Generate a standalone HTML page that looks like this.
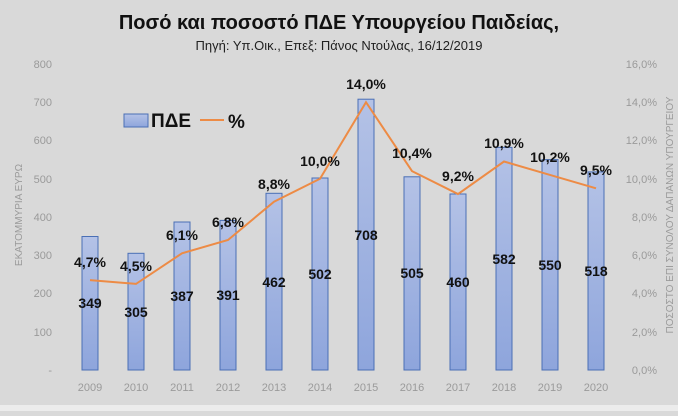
<!DOCTYPE html>
<html><head><meta charset="utf-8"><style>
body{margin:0;width:678px;height:411px;overflow:hidden;background:#d9d9d9;font-family:"Liberation Sans","DejaVu Sans",sans-serif}
</style></head><body>
<svg width="678" height="411" xmlns="http://www.w3.org/2000/svg" font-family="Liberation Sans, DejaVu Sans, sans-serif">
<defs><linearGradient id="g" x1="0" y1="0" x2="0" y2="1"><stop offset="0" stop-color="#b4c2e6"/><stop offset="1" stop-color="#8ea5dc"/></linearGradient></defs>
<rect x="0" y="0" width="678" height="405" fill="#d9d9d9"/>
<rect x="0" y="405" width="678" height="6" fill="#ececec"/>
<text x="339" y="29" text-anchor="middle" font-size="20" font-weight="bold" fill="#111">Ποσό και ποσοστό ΠΔΕ Υπουργείου Παιδείας,</text>
<text x="339" y="50" text-anchor="middle" font-size="13" fill="#222">Πηγή: Υπ.Οικ., Επεξ: Πάνος Ντούλας, 16/12/2019</text>
<g font-size="11" fill="#9a9a9a" text-anchor="end">
<text x="52" y="68">800</text><text x="52" y="106">700</text><text x="52" y="144">600</text><text x="52" y="183">500</text><text x="52" y="221">400</text><text x="52" y="259">300</text><text x="52" y="297">200</text><text x="52" y="336">100</text><text x="52" y="374">-</text>
<text x="657" y="68">16,0%</text><text x="657" y="106">14,0%</text><text x="657" y="144">12,0%</text><text x="657" y="183">10,0%</text><text x="657" y="221">8,0%</text><text x="657" y="259">6,0%</text><text x="657" y="297">4,0%</text><text x="657" y="336">2,0%</text><text x="657" y="374">0,0%</text>
</g>
<text transform="translate(22,215) rotate(-90)" text-anchor="middle" font-size="10" fill="#9a9a9a">ΕΚΑΤΟΜΜΥΡΙΑ ΕΥΡΩ</text>
<text transform="translate(673,215) rotate(-90)" text-anchor="middle" font-size="10" fill="#9a9a9a">ΠΟΣΟΣΤΟ ΕΠΙ ΣΥΝΟΛΟΥ ΔΑΠΑΝΩΝ ΥΠΟΥΡΓΕΙΟΥ</text>
<g fill="url(#g)" stroke="#4a6fb5" stroke-width="1">
<rect x="82" y="236.5" width="16" height="133.5"/>
<rect x="128" y="253.3" width="16" height="116.7"/>
<rect x="174" y="222" width="16" height="148"/>
<rect x="220" y="220.4" width="16" height="149.6"/>
<rect x="266" y="193.3" width="16" height="176.7"/>
<rect x="312" y="178" width="16" height="192"/>
<rect x="358" y="99.2" width="16" height="270.8"/>
<rect x="404" y="176.8" width="16" height="193.2"/>
<rect x="450" y="194" width="16" height="176"/>
<rect x="496" y="147.4" width="16" height="222.6"/>
<rect x="542" y="159.6" width="16" height="210.4"/>
<rect x="588" y="171.9" width="16" height="198.1"/>
</g>
<polyline points="90,280.1 136,283.9 182,253.3 228,240 274,201.7 320,178.75 366,102.25 412,171.1 458,194.05 504,161.5 550,174.9 596,188.3" fill="none" stroke="#ed8b45" stroke-width="2"/>
<g font-size="14" font-weight="bold" fill="#111" text-anchor="middle">
<text x="90" y="308">349</text><text x="136" y="317">305</text><text x="182" y="301">387</text><text x="228" y="300">391</text><text x="274" y="287">462</text><text x="320" y="279">502</text><text x="366" y="240">708</text><text x="412" y="278">505</text><text x="458" y="287">460</text><text x="504" y="264">582</text><text x="550" y="270">550</text><text x="596" y="276">518</text>
</g>
<g font-size="14" font-weight="bold" fill="#111" text-anchor="middle">
<text x="90" y="267">4,7%</text><text x="136" y="271">4,5%</text><text x="182" y="240">6,1%</text><text x="228" y="227">6,8%</text><text x="274" y="189">8,8%</text><text x="320" y="166">10,0%</text><text x="366" y="89">14,0%</text><text x="412" y="158">10,4%</text><text x="458" y="181">9,2%</text><text x="504" y="148">10,9%</text><text x="550" y="162">10,2%</text><text x="596" y="175">9,5%</text>
</g>
<g font-size="11" fill="#9a9a9a" text-anchor="middle">
<text x="90" y="391">2009</text><text x="136" y="391">2010</text><text x="182" y="391">2011</text><text x="228" y="391">2012</text><text x="274" y="391">2013</text><text x="320" y="391">2014</text><text x="366" y="391">2015</text><text x="412" y="391">2016</text><text x="458" y="391">2017</text><text x="504" y="391">2018</text><text x="550" y="391">2019</text><text x="596" y="391">2020</text>
</g>
<rect x="124" y="114" width="24" height="13" fill="url(#g)" stroke="#4a6fb5" stroke-width="1"/>
<text x="151" y="127" font-size="19" font-weight="bold" fill="#111">ΠΔΕ</text>
<line x1="200" y1="120" x2="224" y2="120" stroke="#ed8b45" stroke-width="2"/>
<text x="228" y="128" font-size="19" font-weight="bold" fill="#111">%</text>
</svg>
</body></html>
